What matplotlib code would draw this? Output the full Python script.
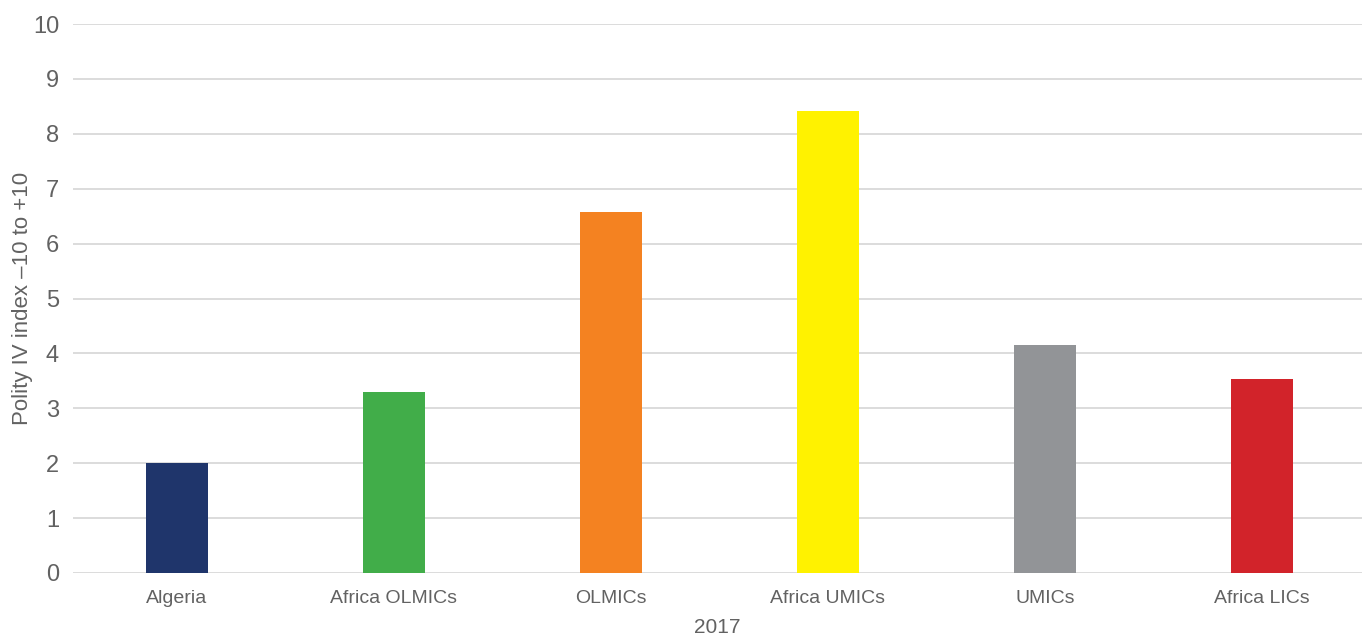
import matplotlib.pyplot as plt

categories = ["Algeria", "Africa OLMICs", "OLMICs", "Africa UMICs", "UMICs", "Africa LICs"]
values = [2.0, 3.3, 6.57, 8.42, 4.16, 3.54]
colors = ["#1f356b", "#41ad49", "#f48221", "#fff200", "#929497", "#d2232a"]

plt.rcParams['font.family'] = ['Liberation Sans', 'DejaVu Sans']
text_color = "#626262"

fig = plt.figure(figsize=(13.62, 6.39), dpi=100)
ax = fig.add_axes([0.0536, 0.1033, 0.9464, 0.8591])

x = range(len(categories))
ax.bar(x, values, width=0.282, color=colors, zorder=3)

ax.set_xlim(-0.479, 5.461)
ax.set_ylim(0, 10)
ax.set_yticks(range(0, 11))
ax.set_xticks(list(x))
ax.set_xticklabels(categories)
ax.grid(axis='y', color='#d9d9d9', linewidth=1.3, zorder=0)
ax.set_axisbelow(True)
for s in ax.spines.values():
    s.set_visible(False)
ax.tick_params(axis='y', length=0, labelsize=17, labelcolor=text_color, pad=10)
ax.tick_params(axis='x', length=0, labelsize=14, labelcolor=text_color, pad=12)

ax.set_xlabel("2017", fontsize=15, color=text_color, labelpad=8)
ax.set_ylabel("Polity IV index \u201310 to +10", fontsize=16, color=text_color, labelpad=0)

fig.savefig("out.png", dpi=100)
